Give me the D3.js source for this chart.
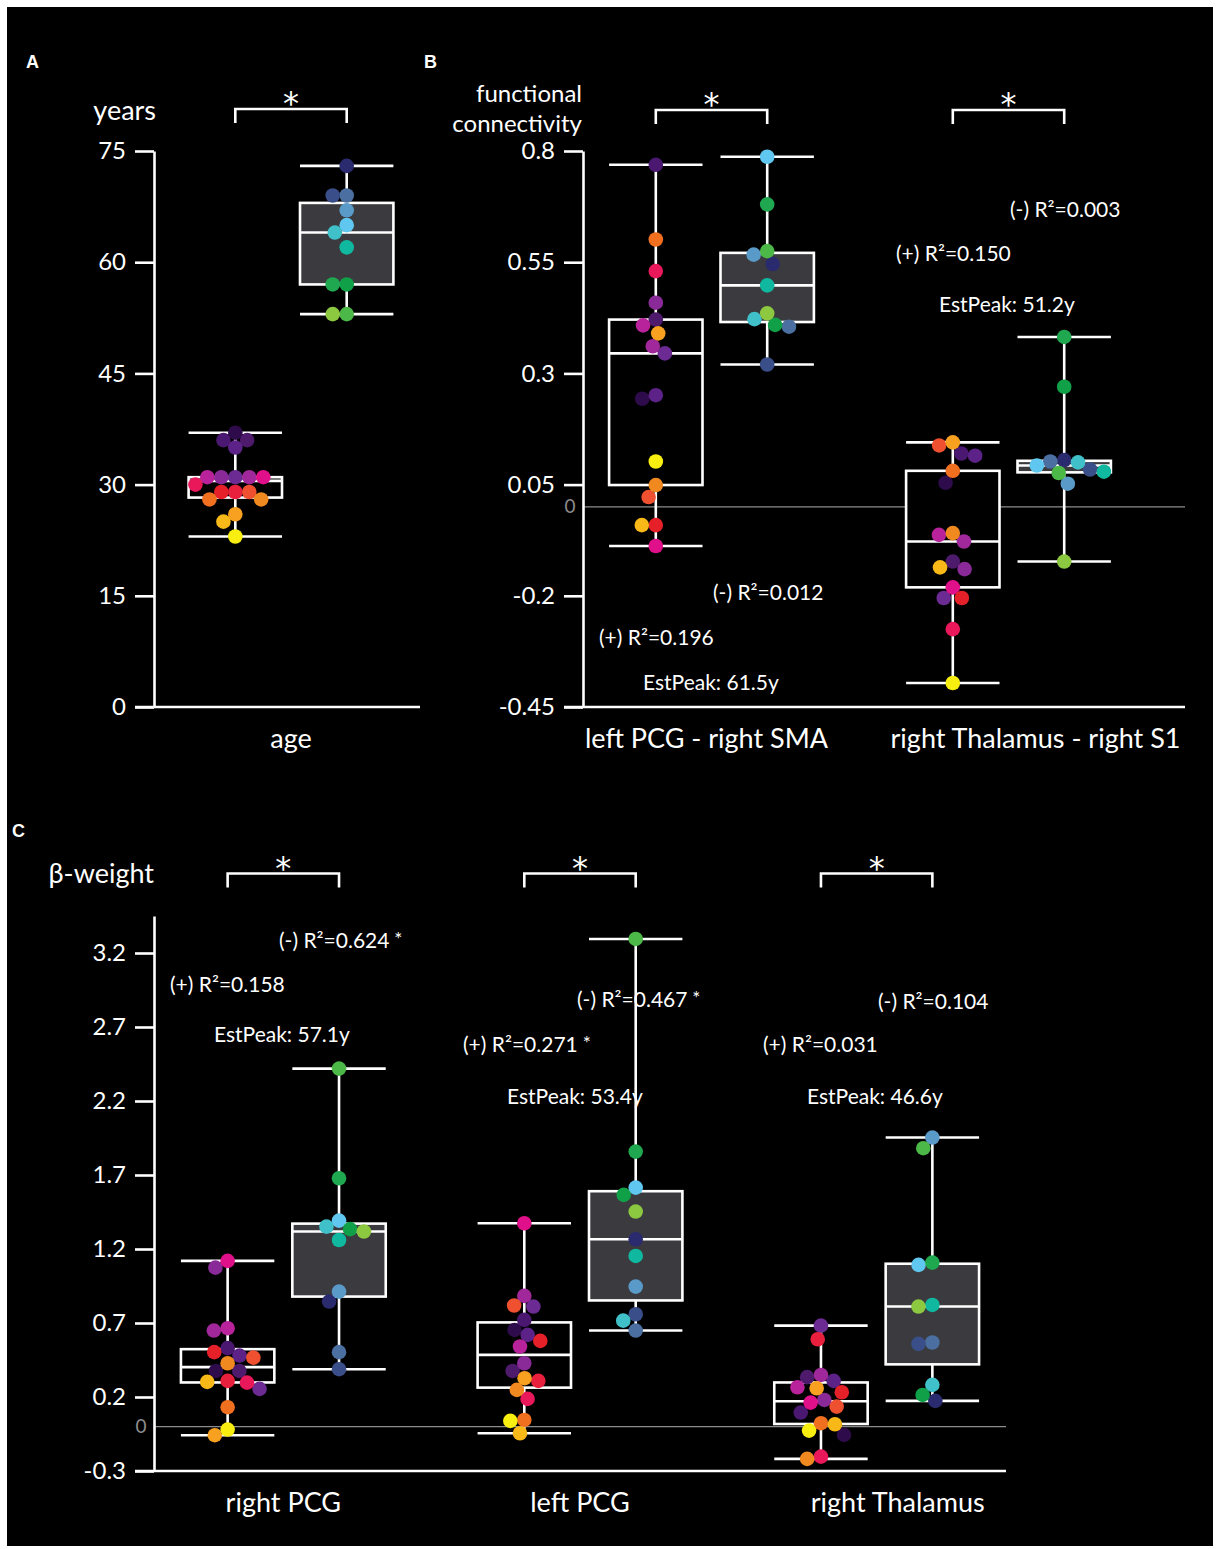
<!DOCTYPE html>
<html>
<head>
<meta charset="utf-8">
<script src="https://cdn.jsdelivr.net/npm/d3@7"></script>
<style>
  body { margin: 0; background: #fff; }
  text { font-family: Lato, "Open Sans", sans-serif; fill: #fff; }
</style>
</head>
<body>
<svg id="fig" width="1219" height="1549"></svg>
<script>
// ---- data: one value per subject, subjects ranked from oldest to youngest in each group ----
const groups = ['young', 'old'];

// panel A
const ageCategories = ['age'];
const youngAge = [37, 36, 36, 35, 31, 31, 31, 31, 31, 30, 29, 29, 29, 28, 28, 26, 25, 23];
const oldAge = [73, 69, 69, 67, 65, 64, 62, 57, 57, 53, 53];
const ageTicks = [0, 15, 30, 45, 60, 75];

// panel B (functional connectivity), subject 10 of the young group is not shown
const fcCategories = ['left PCG - right SMA', 'right Thalamus - right S1'];
const fcPcgSmaYoung = [0.243, 0.769, 0.421, 0.251, 0.345, 0.459, 0.361, 0.408, -0.088, 0.530, null, -0.041, 0.022, 0.601, 0.049, 0.390, -0.041, 0.102];
const fcPcgSmaOld = [0.546, 0.405, 0.320, 0.567, 0.787, 0.422, 0.498, 0.409, 0.680, 0.575, 0.435];
const fcThalS1Young = [0.054, 0.120, -0.123, 0.115, -0.205, -0.140, -0.078, -0.063, -0.181, -0.275, null, -0.205, 0.138, 0.081, -0.059, 0.145, -0.136, -0.396];
const fcThalS1Old = [0.105, 0.102, 0.084, 0.052, 0.093, 0.100, 0.079, 0.270, 0.382, 0.076, -0.123];
const fcTicks = [-0.45, -0.2, 0.05, 0.3, 0.55, 0.8];
const fcNotes = ['(-) R²=0.012', '(+) R²=0.196', 'EstPeak: 61.5y', '(-) R²=0.003', '(+) R²=0.150', 'EstPeak: 51.2y'];

// panel C (beta weights)
const betaCategories = ['right PCG', 'left PCG', 'right Thalamus'];
const betaRightPcgYoung = [0.376, 0.530, 0.376, 0.480, 0.255, 1.074, 0.649, 0.665, 1.120, 0.297, 0.309, 0.503, 0.466, 0.131, 0.428, -0.058, 0.302, -0.020];
const betaRightPcgOld = [0.845, 0.503, 0.388, 0.912, 1.392, 1.351, 1.261, 1.334, 1.678, 2.419, 1.318];
const betaLeftPcgYoung = [0.653, 0.721, 0.376, 0.620, 0.811, 0.428, 0.883, 0.541, 1.374, 0.187, 0.309, 0.579, 0.818, 0.045, 0.248, 0.327, -0.045, 0.039];
const betaLeftPcgOld = [1.266, 0.649, 0.759, 0.946, 1.615, 0.716, 1.153, 1.566, 1.858, 3.295, 1.453];
const betaThalYoung = [-0.056, 0.095, 0.334, 0.309, 0.682, 0.180, 0.349, 0.266, 0.162, -0.203, 0.590, 0.232, 0.135, 0.023, -0.218, 0.259, 0.016, -0.027];
const betaThalOld = [0.174, 0.568, 0.559, 1.953, 1.093, 0.282, 0.822, 0.214, 1.108, 1.881, 0.811];
const betaTicks = [-0.3, 0.2, 0.7, 1.2, 1.7, 2.2, 2.7, 3.2];
const betaNotes = ['(-) R²=0.624 *', '(+) R²=0.158', 'EstPeak: 57.1y', '(-) R²=0.467 *', '(+) R²=0.271 *', 'EstPeak: 53.4y', '(-) R²=0.104', '(+) R²=0.031', 'EstPeak: 46.6y'];

// subject colours, oldest to youngest
const youngColors = ['#2e0b4a', '#4a1870', '#4d1a6c', '#5c2287', '#6c2a93', '#8a2a98', '#a0289a', '#b8229a', '#e0108a', '#e8185a',
  '#e8203e', '#e62028', '#ee5030', '#f07020', '#f08a20', '#f8a020', '#f8b818', '#f8ee10'];
const oldColors = ['#2a2a6e', '#4a6fa0', '#3a4f8a', '#5a9ac8', '#60c8f0', '#40c0c8', '#10b8a0', '#10a048', '#20a850', '#4cb848', '#8cc840'];

// ---- layout ----
const svg = d3.select('#fig');
svg.append('rect').attr('x', 7).attr('y', 7).attr('width', 1206).attr('height', 1539).attr('fill', '#000');

const PAIR = 55.7, HALF = 46.7, R = 7.3, SW = 2.6;

function swarm(vals, y, d) {
  const pts = vals.map((v, i) => ({ v, i, py: v == null ? 0 : y(v) })).filter(p => p.v != null);
  const placed = [];
  pts.slice().sort((a, b) => a.py - b.py).forEach(p => {
    const iv = [];
    placed.forEach(q => {
      const dy = Math.abs(q.py - p.py);
      if (dy < d) { const w = Math.sqrt(d * d - dy * dy); iv.push([q.dx - w, q.dx + w]); }
    });
    const cands = [0];
    iv.forEach(([a, b]) => cands.push(a, b));
    cands.sort((a, b) => Math.abs(a) - Math.abs(b) || a - b);
    p.dx = cands.find(c => iv.every(([a, b]) => c <= a + 1e-6 || c >= b - 1e-6));
    placed.push(p);
  });
  return pts;
}

function panel(o) {
  const g = svg.append('g');
  const y = o.y;
  const x = d3.scaleBand().domain(o.cats).range(o.band);
  const bottom = y.range()[0];

  // zero reference line
  if (o.zero) {
    g.append('line').attr('x1', o.axisX).attr('x2', o.axisEnd).attr('y1', y(0)).attr('y2', y(0))
      .attr('stroke', '#8c8c8c').attr('stroke-width', 1.2);
    g.append('text').attr('x', o.axisX - 13).attr('y', y(0)).attr('dy', '0.35em')
      .attr('text-anchor', 'middle').style('fill', '#8c8c8c').style('font-size', '19px').text('0');
  }

  // y axis
  const ax = g.append('g').attr('transform', `translate(${o.axisX},0)`)
    .call(d3.axisLeft(y).tickValues(o.ticks).tickSize(19).tickSizeOuter(0).tickPadding(9)
      .tickFormat(d => String(+d.toFixed(2))));
  ax.select('.domain').attr('stroke', '#fff').attr('stroke-width', SW);
  ax.selectAll('.tick line').attr('stroke', '#fff').attr('stroke-width', SW);
  ax.selectAll('.tick text').style('font-size', '24px').style('fill', '#fff');

  // x axis line
  g.append('line').attr('x1', o.axisX - 19).attr('x2', o.axisEnd).attr('y1', bottom).attr('y2', bottom)
    .attr('stroke', '#fff').attr('stroke-width', SW);

  // axis title
  o.title.forEach((t, k) => {
    g.append('text').attr('x', o.titleX).attr('y', o.titleY + k * 30).attr('dy', '0.35em')
      .attr('text-anchor', 'end').style('font-size', o.titleSize || '24px').text(t);
  });

  o.cats.forEach((cat, ci) => {
    const mid = x(cat) + x.bandwidth() / 2;
    const cxs = [];
    groups.forEach((grp, gi) => {
      const vals = o.series[ci][gi].filter(v => v != null).sort(d3.ascending);
      const cx = mid + (gi === 0 ? -PAIR : PAIR);
      cxs.push(cx);
      const q1 = d3.quantile(vals, 0.25), med = d3.quantile(vals, 0.5), q3 = d3.quantile(vals, 0.75);
      const lo = d3.min(vals), hi = d3.max(vals);
      const bg = g.append('g');
      bg.append('line').attr('x1', cx).attr('x2', cx).attr('y1', y(hi)).attr('y2', y(lo))
        .attr('stroke', '#fff').attr('stroke-width', SW);
      bg.append('rect').attr('x', cx - HALF).attr('width', HALF * 2)
        .attr('y', y(q3)).attr('height', y(q1) - y(q3))
        .attr('fill', gi === 0 ? '#000' : '#3b3b3f').attr('stroke', '#fff').attr('stroke-width', SW);
      [med, hi, lo].forEach(v => {
        bg.append('line').attr('x1', cx - HALF).attr('x2', cx + HALF).attr('y1', y(v)).attr('y2', y(v))
          .attr('stroke', '#fff').attr('stroke-width', SW);
      });
      const pts = swarm(o.series[ci][gi], y, 14);
      const colors = gi === 0 ? youngColors : oldColors;
      bg.selectAll('circle').data(pts).enter().append('circle')
        .attr('cx', p => cx + p.dx).attr('cy', p => p.py).attr('r', R)
        .attr('fill', p => colors[p.i]);
    });

    // significance bracket
    const by = o.bracketY;
    g.append('path').attr('d', `M${cxs[0]},${by + 14}V${by}H${cxs[1]}V${by + 14}`)
      .attr('fill', 'none').attr('stroke', '#fff').attr('stroke-width', SW);
    g.append('text').attr('x', (cxs[0] + cxs[1]) / 2).attr('y', by + 5)
      .attr('text-anchor', 'middle').style('font-family', '"DejaVu Sans", sans-serif')
      .style('font-size', '32px').text('*');

    // category label
    g.append('text').attr('x', mid + o.labelShift[ci]).attr('y', bottom + 32).attr('dy', '0.35em')
      .attr('text-anchor', 'middle').style('font-size', '27px').text(cat);
  });

  // regression notes
  (o.notes || []).forEach((t, k) => {
    const [nx, ny] = o.notePos[k];
    const star = t.endsWith(' *');
    const tx = g.append('text').attr('x', nx).attr('y', ny).attr('dy', '0.35em').style('font-size', '21px');
    tx.append('tspan').text(star ? t.slice(0, -2) : t);
    if (star) tx.append('tspan').attr('dy', '-2').style('font-size', '19px').text(' *');
  });

  g.append('text').attr('x', o.letter[0]).attr('y', o.letter[1])
    .style('font-family', '"Liberation Sans", Arial, sans-serif').style('font-weight', 'bold')
    .style('font-size', '18px').text(o.letter[2]);
}

panel({
  cats: ageCategories, band: [135, 447], series: [[youngAge, oldAge]],
  y: d3.scaleLinear().domain([0, 75]).range([707, 151]), ticks: ageTicks,
  axisX: 154, axisEnd: 420, bracketY: 109, labelShift: [0],
  title: ['years'], titleX: 156, titleY: 111, titleSize: '27px', letter: [26, 68, 'A']
});

panel({
  cats: fcCategories, band: [563, 1157],
  series: [[fcPcgSmaYoung, fcPcgSmaOld], [fcThalS1Young, fcThalS1Old]],
  y: d3.scaleLinear().domain([-0.45, 0.8]).range([707, 151]), ticks: fcTicks,
  axisX: 583, axisEnd: 1185, bracketY: 110, labelShift: [-5, 27], zero: true,
  title: ['functional', 'connectivity'], titleX: 582, titleY: 94, letter: [424, 68, 'B'],
  notes: fcNotes,
  notePos: [[713, 593], [599, 638], [643, 683], [1010, 210], [896, 254], [939, 305]]
});

panel({
  cats: betaCategories, band: [135, 1025],
  series: [[betaRightPcgYoung, betaRightPcgOld], [betaLeftPcgYoung, betaLeftPcgOld], [betaThalYoung, betaThalOld]],
  y: d3.scaleLinear().domain([-0.3, 3.45]).range([1471, 916]), ticks: betaTicks,
  axisX: 154, axisEnd: 1006, bracketY: 873.5, labelShift: [0, 0, 21], zero: true,
  title: ['β-weight'], titleX: 154, titleY: 874, titleSize: '27px', letter: [12, 837, 'C'],
  notes: betaNotes,
  notePos: [[279, 941], [170, 985], [214, 1035], [577, 1000], [463, 1045], [507, 1097], [878, 1002], [763, 1045], [807, 1097]]
});
</script>
</body>
</html>
